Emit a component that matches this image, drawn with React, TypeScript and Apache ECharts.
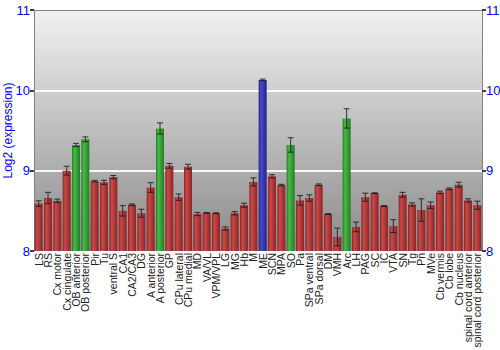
import React, { useEffect, useRef } from "react";
import * as echarts from "echarts";

const categories = [
  "LS", "RS", "Cx motor", "Cx cingulate", "OB anterior", "OB posterior", "Pir", "Tu",
  "ventral S", "CA1", "CA2/CA3", "DG", "A anterior", "A posterior", "GP", "CPu lateral",
  "CPu medial", "MD", "VA/VL", "VPM/VPL", "LG", "MG", "Hb", "M", "ME", "SCN", "MPA", "SO",
  "Pa", "SPa ventral", "SPa dorsal", "DM", "VMH", "Arc", "LH", "PAG", "SC", "IC", "VTA",
  "SN", "Tg", "Pn", "MVe", "Cb vermis", "Cb lobe", "Cb nucleus", "spinal cord anterior",
  "spinal cord posterior",
];

const values = [
  8.59, 8.66, 8.625, 9.0, 9.32, 9.39, 8.87, 8.855,
  8.92, 8.5, 8.575, 8.47, 8.79, 9.525, 9.06, 8.67,
  9.05, 8.46, 8.475, 8.47, 8.28, 8.47, 8.57, 8.86, 10.13, 8.93, 8.82, 9.32,
  8.63, 8.66, 8.825, 8.46, 8.175, 9.65, 8.3, 8.67, 8.72, 8.56, 8.31,
  8.7, 8.58, 8.51, 8.57, 8.73, 8.775, 8.825, 8.63,
  8.57,
];

const errors = [
  0.035, 0.07, 0.02, 0.055, 0.02, 0.03, 0.01, 0.025,
  0.02, 0.065, 0.01, 0.05, 0.06, 0.07, 0.03, 0.04,
  0.03, 0.02, 0.005, 0.005, 0.02, 0.02, 0.025, 0.05, 0.01, 0.02, 0.01, 0.09,
  0.06, 0.04, 0.01, 0.005, 0.11, 0.12, 0.06, 0.05, 0.005, 0.005, 0.08,
  0.03, 0.02, 0.14, 0.04, 0.015, 0.01, 0.03, 0.02,
  0.05,
];

// group: r = red, g = green, b = blue
const groups = [
  "r", "r", "r", "r", "g", "g", "r", "r",
  "r", "r", "r", "r", "r", "g", "r", "r",
  "r", "r", "r", "r", "r", "r", "r", "r", "b", "r", "r", "g",
  "r", "r", "r", "r", "r", "g", "r", "r", "r", "r", "r",
  "r", "r", "r", "r", "r", "r", "r", "r",
  "r",
];

const FONT = "Liberation Sans, Arial, sans-serif";

function grad(edge: string, mid: string) {
  return new echarts.graphic.LinearGradient(0, 0, 1, 0, [
    { offset: 0, color: edge },
    { offset: 0.3, color: mid },
    { offset: 1, color: edge },
  ]);
}

export default function App() {
  const ref = useRef<HTMLDivElement>(null);
  useEffect(() => {
    if (!ref.current) return;
    const chart = echarts.init(ref.current, undefined, { renderer: "svg" });
    const colors: Record<string, any> = {
      r: grad("#8e2424", "#c84a4a"),
      g: grad("#1f7f1f", "#4cb84c"),
      b: grad("#22228e", "#4a4ac8"),
    };
    const barData = values.map((v, i) => ({
      value: v,
      itemStyle: { color: colors[groups[i]] },
    }));
    const errData = values.map((v, i) => [i, v - errors[i], v + errors[i]]);
    const axisLabelStyle = { color: "#0000ff", fontSize: 13, fontFamily: FONT };
    chart.setOption({
      animation: false,
      grid: {
        left: 34,
        right: 18,
        top: 10,
        bottom: 99,
        outerBoundsMode: "none",
        containLabel: false,
        show: true,
        borderWidth: 0,
        backgroundColor: new echarts.graphic.LinearGradient(0, 0, 0, 1, [
          { offset: 0, color: "#f2f2f2" },
          { offset: 1, color: "#8a8a8a" },
        ]),
      },
      xAxis: [
        {
          type: "category",
          data: categories,
          axisLine: { show: false },
          axisTick: { show: false },
          axisLabel: {
            rotate: 90,
            interval: 0,
            color: "#222",
            fontSize: 10.5,
            fontFamily: FONT,
            margin: 2,
          },
        },
        {
          type: "category",
          position: "top",
          data: categories,
          axisLine: { show: true, lineStyle: { color: "#808080", width: 1 } },
          axisTick: { show: false },
          axisLabel: { show: false },
        },
      ],
      yAxis: [
        {
          type: "value",
          min: 8,
          max: 11,
          interval: 1,
          name: "Log2 (expression)",
          nameLocation: "middle",
          nameGap: 20,
          nameMoveOverlap: false,
          nameTextStyle: { color: "#0000ff", fontSize: 12, fontFamily: FONT },
          axisLine: { show: true, lineStyle: { color: "#808080", width: 1 } },
          axisTick: { show: true, length: 4, lineStyle: { color: "#404040", width: 2 } },
          axisLabel: { ...axisLabelStyle, margin: 4 },
          splitLine: {
            show: true,
            showMinLine: false,
            showMaxLine: false,
            lineStyle: { color: "#ffffff", width: 2, opacity: 0.9 },
          },
        },
        {
          type: "value",
          min: 8,
          max: 11,
          interval: 1,
          position: "right",
          axisLine: { show: true, lineStyle: { color: "#808080", width: 1 } },
          axisTick: { show: true, length: 4, lineStyle: { color: "#404040", width: 2 } },
          axisLabel: { ...axisLabelStyle, margin: 4 },
          splitLine: { show: false },
        },
      ],
      series: [
        {
          type: "bar",
          data: barData,
          barCategoryGap: "14%",
        },
        {
          type: "custom",
          data: errData,
          z: 5,
          renderItem: (params: any, api: any) => {
            const x = api.value(0);
            const lo = api.coord([x, api.value(1)]);
            const hi = api.coord([x, api.value(2)]);
            const w = 3;
            const style = { stroke: "#1a1a1a", lineWidth: 1, opacity: 0.85 };
            return {
              type: "group",
              children: [
                { type: "line", shape: { x1: lo[0], y1: lo[1], x2: hi[0], y2: hi[1] }, style },
                { type: "line", shape: { x1: lo[0] - w, y1: lo[1], x2: lo[0] + w, y2: lo[1] }, style },
                { type: "line", shape: { x1: hi[0] - w, y1: hi[1], x2: hi[0] + w, y2: hi[1] }, style },
              ],
            };
          },
        },
      ],
    });
    return () => chart.dispose();
  }, []);
  return <div ref={ref} style={{ width: 500, height: 350, position: "absolute", left: 0, top: 0 }} />;
}
